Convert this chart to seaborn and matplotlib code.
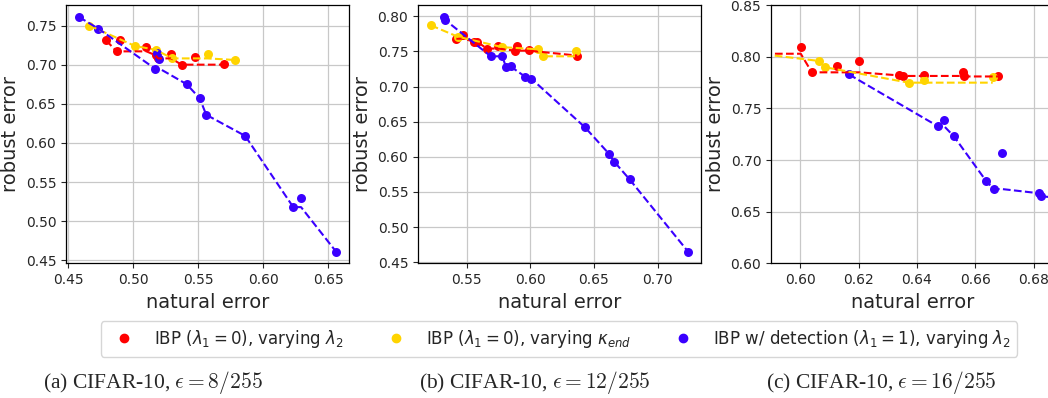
import numpy as np
import pandas as pd
import seaborn as sns
import matplotlib.pyplot as plt
from matplotlib.lines import Line2D

# (a) eps = 8/255
red_a_x = [0.479, 0.487, 0.490, 0.510, 0.517, 0.519, 0.529, 0.537, 0.547, 0.570]
red_a_y = [0.731, 0.717, 0.731, 0.722, 0.712, 0.708, 0.713, 0.700, 0.710, 0.701]
yel_a_x = [0.466, 0.501, 0.517, 0.530, 0.557, 0.578]
yel_a_y = [0.750, 0.724, 0.719, 0.708, 0.713, 0.706]
blu_a_x = [0.458, 0.473, 0.5165, 0.518, 0.520, 0.541, 0.551, 0.556, 0.586, 0.623, 0.629, 0.656]
blu_a_y = [0.761, 0.746, 0.695, 0.715, 0.707, 0.675, 0.657, 0.636, 0.609, 0.518, 0.530, 0.461]

# (b) eps = 12/255
red_b_x = [0.542, 0.547, 0.556, 0.558, 0.566, 0.575, 0.588, 0.590, 0.599, 0.637]
red_b_y = [0.768, 0.773, 0.764, 0.764, 0.754, 0.757, 0.751, 0.757, 0.752, 0.744]
yel_b_x = [0.522, 0.543, 0.578, 0.606, 0.610, 0.636]
yel_b_y = [0.787, 0.771, 0.756, 0.753, 0.743, 0.751]
blu_b_x = [0.5325, 0.533, 0.569, 0.578, 0.581, 0.585, 0.596, 0.601, 0.643, 0.662, 0.666, 0.678, 0.724]
blu_b_y = [0.799, 0.795, 0.743, 0.744, 0.728, 0.729, 0.714, 0.711, 0.642, 0.604, 0.593, 0.568, 0.465]

# (c) eps = 16/255 (some runs fall outside the shown range)
red_c_x = [0.580, 0.6002, 0.604, 0.6127, 0.6202, 0.634, 0.6353, 0.6423, 0.6559, 0.6562, 0.6678]
red_c_y = [0.803, 0.810, 0.785, 0.791, 0.796, 0.782, 0.7815, 0.782, 0.785, 0.781, 0.7815]
yel_c_x = [0.580, 0.6065, 0.6084, 0.6372, 0.6423, 0.666]
yel_c_y = [0.805, 0.796, 0.790, 0.775, 0.778, 0.780]
blu_c_x = [0.6167, 0.6471, 0.6493, 0.6527, 0.6637, 0.6663, 0.6693, 0.6818, 0.6826, 0.695]
blu_c_y = [0.783, 0.733, 0.739, 0.723, 0.680, 0.672, 0.707, 0.668, 0.665, 0.662]

labels = [r"IBP ($\lambda_1=0$), varying $\lambda_2$",
          r"IBP ($\lambda_1=0$), varying $\kappa_{end}$",
          r"IBP w/ detection ($\lambda_1=1$), varying $\lambda_2$"]
colors = ["#ff0000", "#ffd400", "#3a00ff"]
captions = [r"(a) CIFAR-10, $\epsilon = 8/255$",
            r"(b) CIFAR-10, $\epsilon = 12/255$",
            r"(c) CIFAR-10, $\epsilon = 16/255$"]

panels = [
    [(red_a_x, red_a_y), (yel_a_x, yel_a_y), (blu_a_x, blu_a_y)],
    [(red_b_x, red_b_y), (yel_b_x, yel_b_y), (blu_b_x, blu_b_y)],
    [(red_c_x, red_c_y), (yel_c_x, yel_c_y), (blu_c_x, blu_c_y)],
]

sns.set_style("ticks")
plt.rcParams['font.family'] = ['DejaVu Sans']

fig = plt.figure(figsize=(10.48, 3.98), dpi=100)
lefts = [66 / 1048, 418 / 1048, 771 / 1048]
axes = [fig.add_axes([l, 0.338, 283 / 1048, 0.649]) for l in lefts]

for ax, series in zip(axes, panels):
    for (xs, ys), c in zip(series, colors):
        df = pd.DataFrame({"x": xs, "y": ys}).sort_values("x")
        # frontier: best robust error so far
        df["front"] = df["y"].cummin()
        sns.scatterplot(data=df, x="x", y="y", color=c, s=42, linewidth=0, ax=ax)
        sns.lineplot(data=df, x="x", y="front", color=c, linestyle="--", lw=1.5,
                     estimator=None, sort=False, ax=ax)
    ax.grid(True, color="#c8c8c8", lw=0.9)
    ax.set_xlabel("natural error", fontsize=14)
    ax.set_ylabel("robust error", fontsize=14)
    ax.tick_params(labelsize=10)
    for sp in ax.spines.values():
        sp.set_color("black")
        sp.set_linewidth(0.9)

axes[0].margins(0.05)
axes[1].margins(0.05)
axes[2].set_xlim(0.59, 0.687)
axes[2].set_ylim(0.60, 0.85)
axes[2].set_xticks([0.60, 0.62, 0.64, 0.66, 0.68])

handles = [Line2D([], [], marker="o", ls="none", color=c, markersize=6) for c in colors]
fig.legend(handles, labels, loc="center", bbox_to_anchor=(559 / 1048, 1 - 339 / 398),
           ncol=3, fontsize=12, frameon=True, columnspacing=2.1)

cap_x = [153 / 1048, 535 / 1048, 881 / 1048]
for cx, txt in zip(cap_x, captions):
    fig.text(cx, 1 - 382 / 398, txt, ha="center", va="center", fontsize=15.5,
             family="Liberation Serif", math_fontfamily="cm")

fig.savefig("out.png", dpi=100)
